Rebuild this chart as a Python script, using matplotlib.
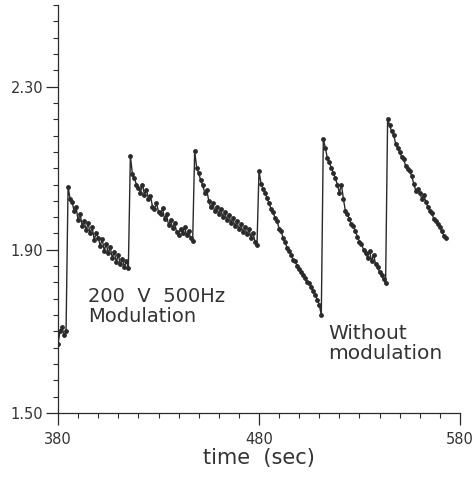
import matplotlib

matplotlib.use("Agg")
import matplotlib.pyplot as plt
import numpy as np
from matplotlib.ticker import FixedLocator

# sampled once per second from t = 380 s
T_START = 380
SAMPLE_STEP = 1

# values, one list per charging cycle
seg_start = [1.67, 1.70, 1.71, 1.69, 1.70]
seg_mod_1 = [2.055, 2.025, 2.018, 1.995, 2.005, 1.972, 1.988, 1.958, 1.970, 1.948,
             1.965, 1.940, 1.955, 1.925, 1.940, 1.930, 1.910, 1.926, 1.898, 1.914,
             1.892, 1.906, 1.880, 1.895, 1.870, 1.888, 1.864, 1.878, 1.858, 1.872,
             1.856]
seg_mod_2 = [2.130, 2.086, 2.075, 2.060, 2.052, 2.040, 2.060, 2.035, 2.047, 2.025,
             2.032, 2.006, 2.000, 2.014, 1.993, 1.988, 2.002, 1.975, 1.987, 1.960,
             1.973, 1.953, 1.966, 1.944, 1.936, 1.952, 1.940, 1.956, 1.936, 1.946,
             1.928, 1.922]
seg_mod_3 = [2.143, 2.100, 2.088, 2.070, 2.058, 2.040, 2.047, 2.020, 2.004, 2.014,
             1.994, 2.004, 1.988, 2.000, 1.980, 1.992, 1.973, 1.986, 1.966, 1.977,
             1.958, 1.970, 1.950, 1.962, 1.943, 1.956, 1.938, 1.950, 1.930, 1.942,
             1.920, 1.912]
seg_free_1 = [2.094, 2.062, 2.050, 2.040, 2.027, 2.015, 2.000, 1.992, 1.978, 1.970,
              1.952, 1.945, 1.930, 1.918, 1.905, 1.898, 1.888, 1.875, 1.872, 1.860,
              1.852, 1.845, 1.838, 1.830, 1.822, 1.818, 1.810, 1.798, 1.790, 1.778,
              1.765, 1.740]
seg_free_2 = [2.172, 2.150, 2.125, 2.115, 2.100, 2.089, 2.075, 2.060, 2.040, 2.060,
              2.025, 1.995, 1.988, 1.975, 1.962, 1.958, 1.945, 1.932, 1.920, 1.915,
              1.900, 1.892, 1.880, 1.898, 1.872, 1.888, 1.865, 1.858, 1.845, 1.838,
              1.828, 1.818]
seg_free_3 = [2.221, 2.205, 2.190, 2.182, 2.160, 2.150, 2.140, 2.128, 2.122, 2.105,
              2.098, 2.094, 2.080, 2.062, 2.045, 2.050, 2.040, 2.025, 2.035, 2.018,
              2.005, 1.996, 1.990, 1.975, 1.970, 1.962, 1.955, 1.945, 1.935, 1.930]

X_MAJOR = [380, 480, 580]
Y_MAJOR = [1.50, 1.90, 2.30]

values = np.concatenate([seg_start, seg_mod_1, seg_mod_2, seg_mod_3,
                         seg_free_1, seg_free_2, seg_free_3])
times = T_START + SAMPLE_STEP * np.arange(len(values))

ink = "#2a2a2a"
txt = "#333333"
plt.rcParams["font.family"] = ["DejaVu Sans"]

fig = plt.figure(figsize=(4.74, 4.80), dpi=100)
ax = fig.add_axes([0.1224, 0.1396, 0.848, 0.85])

ax.plot(times, values, color=ink, linewidth=1.0, marker="o", markersize=2.8,
        markeredgewidth=0.6, markerfacecolor=ink)

ax.set_xlim(380, 580)
ax.set_ylim(1.50, 2.50)
ax.set_xticks(X_MAJOR)
ax.set_xticklabels([str(v) for v in X_MAJOR])
ax.set_yticks(Y_MAJOR)
ax.set_yticklabels([f"{v:.2f}" for v in Y_MAJOR])
ax.xaxis.set_minor_locator(FixedLocator(np.arange(380, 581, 10)))
ax.yaxis.set_minor_locator(FixedLocator(np.arange(1.50, 2.501, 0.04)))

for side in ("top", "right"):
    ax.spines[side].set_visible(False)
for side in ("left", "bottom"):
    ax.spines[side].set_color(ink)
    ax.spines[side].set_linewidth(0.9)

ax.tick_params(which="major", direction="out", length=8.5, width=0.9, color=ink,
               labelsize=10.5, labelcolor=txt)
ax.tick_params(axis="y", which="major", pad=2)
ax.tick_params(axis="x", which="major", pad=5)
ax.tick_params(which="minor", direction="out", length=3.5, width=0.8, color=ink)

ax.set_xlabel("time  (sec)", fontsize=15, color=txt, labelpad=1)

ax.text(395, 1.808, "200  V  500Hz\nModulation", fontsize=14, color=txt,
        linespacing=1.05, va="top")
ax.text(514.3, 1.718, "Without\nmodulation", fontsize=14.5, color=txt,
        linespacing=1.05, va="top")

fig.savefig("out.png", dpi=100)
plt.close(fig)
